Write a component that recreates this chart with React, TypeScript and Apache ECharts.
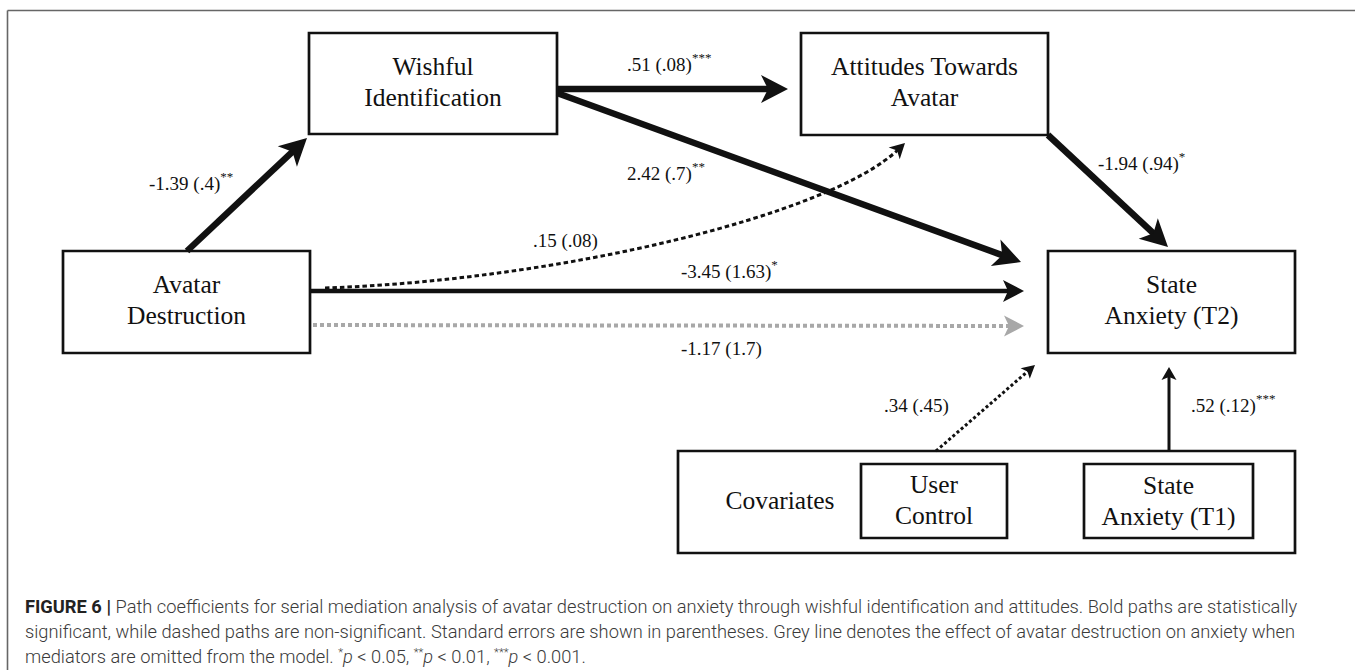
import React, { useEffect, useRef } from 'react';
import * as echarts from 'echarts';

// ---------------- data ----------------
const nodeLines: string[][] = [
  ['Avatar', 'Destruction'],
  ['Wishful', 'Identification'],
  ['Attitudes Towards', 'Avatar'],
  ['State', 'Anxiety (T2)'],
  ['User', 'Control'],
  ['State', 'Anxiety (T1)'],
];
const covariatesLabel = 'Covariates';
const pathCoefficients = ['-1.39', '.51', '2.42', '-1.94', '.15', '-3.45', '-1.17', '.34', '.52'];
const pathErrors = ['.4', '.08', '.7', '.94', '.08', '1.63', '1.7', '.45', '.12'];
const pathStars = ['**', '***', '**', '*', '', '*', '', '', '***'];
const captionLead = 'FIGURE 6 | ';
const captionLine1 =
  'Path coefficients for serial mediation analysis of avatar destruction on anxiety through wishful identification and attitudes. Bold paths are statistically';
const captionLine2 =
  'significant, while dashed paths are non-significant. Standard errors are shown in parentheses. Grey line denotes the effect of avatar destruction on anxiety when';
const captionLine3Lead = 'mediators are omitted from the model. ';
const pStars = ['*', '**', '***'];
const pThresholds = ['0.05', '0.01', '0.001'];

// ---------------- layout / style ----------------
const SERIF = '"Liberation Serif", "Times New Roman", serif';
const SANS = 'Roboto, "Liberation Sans", Arial, sans-serif';
const INK = '#111';
const GREY_PATH = '#a8a8a8';

const boxLayout = [
  { x: 63, y: 251, w: 247, h: 102, cx: 186.5, b: 293 },
  { x: 309, y: 33, w: 248, h: 101, cx: 433, b: 75 },
  { x: 801, y: 33, w: 247, h: 102, cx: 924.5, b: 75 },
  { x: 1048, y: 251, w: 247, h: 102, cx: 1171.5, b: 293 },
  { x: 861, y: 464, w: 146, h: 74, cx: 934, b: 493 },
  { x: 1084, y: 464, w: 169, h: 74, cx: 1168.5, b: 494 },
];
const groupLayout = { x: 678, y: 451, w: 617, h: 102, cx: 780, b: 509 };

type Geom = {
  from: number[];
  to: number[];
  c1?: number[];
  c2?: number[];
  w: number;
  dash?: number[];
  color?: string;
  head: number[]; // length, half width, notch
};
const pathLayout: Geom[] = [
  { from: [187, 251], to: [307, 138], w: 6.5, head: [27, 14, 7] },
  { from: [557, 89], to: [788, 89], w: 6.5, head: [27, 14, 7] },
  { from: [557, 93], to: [1021, 262], w: 6.5, head: [27, 14, 7] },
  { from: [1048, 135], to: [1168, 247], w: 6.5, head: [27, 14, 7] },
  { from: [325, 288], to: [905, 143], c1: [560, 280], c2: [830, 215], w: 3, dash: [4.5, 3], head: [15, 8, 4] },
  { from: [310, 291], to: [1024, 291], w: 4.5, head: [21, 11, 5] },
  { from: [313, 325], to: [1024, 326], w: 4, dash: [4, 3], color: GREY_PATH, head: [20, 10.5, 5] },
  { from: [936, 451], to: [1035, 365], w: 3, dash: [3, 2.5], head: [13, 7, 3] },
  { from: [1169, 451], to: [1169, 367], w: 3, head: [13, 7.5, 3] },
];
const labelLayout = [
  [149, 190], [627, 71], [627, 180], [1098, 170], [533, 247], [681, 278], [681, 355], [884, 412], [1191, 412],
];

// ---------------- helpers ----------------
let mctx: CanvasRenderingContext2D | null = null;
function measure(text: string, size: number, family: string, weight = 'normal', style = 'normal') {
  if (!mctx) mctx = document.createElement('canvas').getContext('2d');
  mctx!.font = `${style} ${weight} ${size}px ${family}`;
  return mctx!.measureText(text).width;
}

function txt(x: number, baseline: number, text: string, size: number, family: string, o: any = {}) {
  return {
    type: 'text',
    x,
    y: baseline - 0.34 * size,
    silent: true,
    style: {
      text,
      fontSize: size,
      fontFamily: family,
      fontWeight: o.weight || 'normal',
      fontStyle: o.style || 'normal',
      fill: o.fill || INK,
      textAlign: o.align || 'left',
      textVerticalAlign: 'middle',
    },
  };
}

type Seg = { text: string; size: number; family: string; weight?: string; style?: string; dy?: number; fill?: string };
function runs(x0: number, baseline: number, segs: Seg[]) {
  const out: any[] = [];
  let x = x0;
  for (const s of segs) {
    const shown = s.text.replace(/\s+$/, '');
    if (shown) out.push(txt(x, baseline + (s.dy || 0), shown, s.size, s.family, { weight: s.weight, style: s.style, fill: s.fill }));
    x += measure(s.text, s.size, s.family, s.weight || 'normal', s.style || 'normal');
  }
  return out;
}

function headAndEnd(tip: number[], dir: number[], head: number[]) {
  const [len, half, notch] = head;
  const L = Math.hypot(dir[0], dir[1]);
  const ux = dir[0] / L, uy = dir[1] / L;
  const nx = -uy, ny = ux;
  const bx = tip[0] - ux * len, by = tip[1] - uy * len;
  const mx = tip[0] - ux * (len - notch), my = tip[1] - uy * (len - notch);
  const poly = {
    type: 'polygon',
    silent: true,
    shape: { points: [[tip[0], tip[1]], [bx + nx * half, by + ny * half], [mx, my], [bx - nx * half, by - ny * half]] },
    style: { stroke: 'none' },
  };
  return { poly, end: [mx + ux * 2, my + uy * 2] };
}

function buildPath(g: Geom) {
  const color = g.color || INK;
  const els: any[] = [];
  if (g.c1 && g.c2) {
    const { poly, end } = headAndEnd(g.to, [g.to[0] - g.c2[0], g.to[1] - g.c2[1]], g.head);
    els.push({
      type: 'bezierCurve',
      silent: true,
      shape: { x1: g.from[0], y1: g.from[1], cpx1: g.c1[0], cpy1: g.c1[1], cpx2: g.c2[0], cpy2: g.c2[1], x2: end[0], y2: end[1] },
      style: { stroke: color, fill: 'none', lineWidth: g.w, lineDash: g.dash || null },
    });
    (poly.style as any).fill = color;
    els.push(poly);
  } else {
    const { poly, end } = headAndEnd(g.to, [g.to[0] - g.from[0], g.to[1] - g.from[1]], g.head);
    els.push({
      type: 'line',
      silent: true,
      shape: { x1: g.from[0], y1: g.from[1], x2: end[0], y2: end[1] },
      style: { stroke: color, lineWidth: g.w, lineDash: g.dash || null },
    });
    (poly.style as any).fill = color;
    els.push(poly);
  }
  return els;
}

function buildElements() {
  const els: any[] = [];
  // figure frame (top and left rules)
  els.push({ type: 'line', silent: true, shape: { x1: 7.5, y1: 10.5, x2: 1355, y2: 10.5 }, style: { stroke: '#666', lineWidth: 1.6 } });
  els.push({ type: 'line', silent: true, shape: { x1: 7.5, y1: 10.5, x2: 7.5, y2: 670 }, style: { stroke: '#666', lineWidth: 1.6 } });

  // paths
  pathLayout.forEach((g) => els.push(...buildPath(g)));

  // boxes
  const rect = (b: any) => ({
    type: 'rect',
    silent: true,
    shape: { x: b.x, y: b.y, width: b.w, height: b.h },
    style: { fill: 'none', stroke: INK, lineWidth: 2.7 },
  });
  els.push(rect(groupLayout));
  els.push(txt(groupLayout.cx, groupLayout.b, covariatesLabel, 25.5, SERIF, { align: 'center' }));
  boxLayout.forEach((b, i) => {
    els.push(rect(b));
    nodeLines[i].forEach((line, k) => {
      els.push(txt(b.cx, b.b + k * 31.5, line, 25.5, SERIF, { align: 'center' }));
    });
  });

  // path coefficient labels
  pathCoefficients.forEach((c, i) => {
    const [x, y] = labelLayout[i];
    const segs: Seg[] = [{ text: `${c} (${pathErrors[i]})`, size: 19, family: SERIF }];
    if (pathStars[i]) segs.push({ text: pathStars[i], size: 13, family: SERIF, dy: -9 });
    els.push(...runs(x, y, segs));
  });

  // caption
  const base = 17;
  const wFit = measure(captionLead, base, SANS, 'bold') + measure(captionLine1, base, SANS, '300');
  let cs = (base * 1273) / wFit;
  cs = Math.max(14, Math.min(20, cs));
  const body = '#3a3a3a';
  els.push(
    ...runs(25, 613, [
      { text: captionLead, size: cs, family: SANS, weight: 'bold', fill: '#222' },
      { text: captionLine1, size: cs, family: SANS, weight: '300', fill: body },
    ])
  );
  els.push(...runs(25, 638, [{ text: captionLine2, size: cs, family: SANS, weight: '300', fill: body }]));
  const l3: Seg[] = [{ text: captionLine3Lead, size: cs, family: SANS, weight: '300', fill: body }];
  pStars.forEach((s, i) => {
    l3.push({ text: s, size: cs * 0.62, family: SANS, weight: '300', fill: body, dy: -cs * 0.38 });
    l3.push({ text: 'p ', size: cs, family: SANS, weight: '300', style: 'italic', fill: body });
    l3.push({ text: `< ${pThresholds[i]}${i < pStars.length - 1 ? ', ' : '.'}`, size: cs, family: SANS, weight: '300', fill: body });
  });
  els.push(...runs(25, 663, l3));
  return els;
}

export default function App() {
  const ref = useRef<HTMLDivElement>(null);
  useEffect(() => {
    document.body.style.margin = '0';
    const chart = echarts.init(ref.current!, null, { renderer: 'svg' });
    chart.setOption({ animation: false, graphic: { elements: buildElements() } });
    return () => chart.dispose();
  }, []);
  return <div ref={ref} style={{ width: 1355, height: 670, background: '#fff' }} />;
}
